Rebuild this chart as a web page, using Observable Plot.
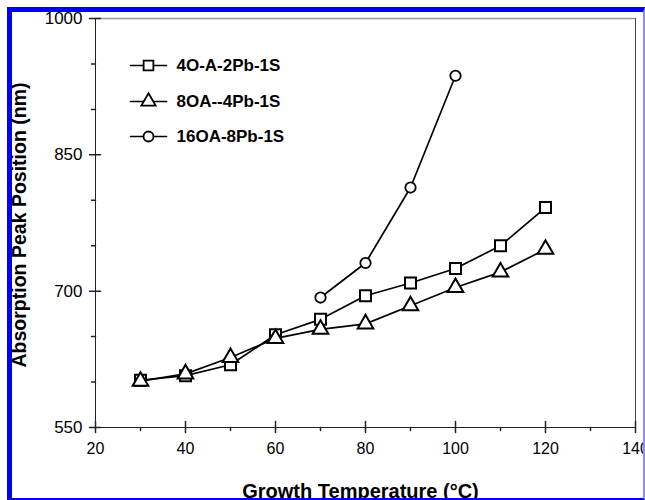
<!DOCTYPE html>
<html><head><meta charset="utf-8">
<script src="https://cdn.jsdelivr.net/npm/d3@7"></script>
<script src="https://cdn.jsdelivr.net/npm/@observablehq/plot@0.6"></script>
<style>
body{margin:0;background:#fff;}
#wrap{position:relative;width:645px;height:500px;overflow:hidden;background:#fff;}
#border{position:absolute;left:7px;top:7px;right:0;bottom:0;border-left:5px solid #0000f5;border-top:5px solid #0000f5;border-right:2px solid #8c8cff;border-bottom:2px solid #0000f5;pointer-events:none;}
</style></head><body>
<div id="wrap"><div id="chart"></div><div id="border"></div></div>
<script>
// ---- data ----
const temps = [30, 40, 50, 60, 70, 80, 90, 100, 110, 120];
const seriesNames = ["4O-A-2Pb-1S", "8OA--4Pb-1S", "16OA-8Pb-1S"];
const squareVals = [602, 607, 619, 652, 669, 695, 709, 725, 750, 792];
const triangleVals = [601, 609, 627, 648, 658, 664, 684, 704, 721, 746];
const circleTemps = [70, 80, 90, 100];
const circleVals = [693, 731, 814, 937];
const xTicks = [20, 40, 60, 80, 100, 120, 140];
const xMinor = [30, 50, 70, 90, 110, 130];
const yTicks = [550, 700, 850, 1000];
const yMinor = [600, 650, 750, 800, 900, 950];
const xTitle = "Growth Temperature (°C)";
const yTitle = "Absorption Peak Position (nm)";

const sqData = temps.map((t, i) => ({t, v: squareVals[i]}));
const triData = temps.map((t, i) => ({t, v: triangleVals[i]}));
const cirData = circleTemps.map((t, i) => ({t, v: circleVals[i]}));

const seg = (x1, y1, x2, y2) => ({draw(c) { c.moveTo(x1, y1); c.lineTo(x2, y2); }});
const font = "Arial, 'Liberation Sans', sans-serif";
const xMin = 20, xMax = 140, yMin = 550, yMax = 1000;

const legendRows = [
  {name: seriesNames[0], symbol: "square", r: 5.5, dy: 47},
  {name: seriesNames[1], symbol: "triangle", r: 5.3, dy: 83},
  {name: seriesNames[2], symbol: "circle", r: 5, dy: 118}
];
const legendMarks = legendRows.flatMap(row => [
  Plot.vector([0], {frameAnchor: "top-left", dx: 53, dy: row.dy, length: 1, anchor: "start",
    shape: seg(-18, 0, 18, 0), stroke: "black", strokeWidth: 1.6}),
  Plot.dot([0], {frameAnchor: "top-left", dx: 53, dy: row.dy, symbol: row.symbol, r: row.r,
    fill: "white", stroke: "black", strokeWidth: 1.8}),
  Plot.text([row.name], {frameAnchor: "top-left", dx: 81, dy: row.dy, textAnchor: "start", lineAnchor: "middle",
    fontSize: 17, fontWeight: "bold", fill: "black"})
]);

const chart = Plot.plot({
  width: 645, height: 500,
  marginLeft: 95, marginRight: 10, marginTop: 18, marginBottom: 73,
  x: {domain: [xMin, xMax]},
  y: {domain: [yMin, yMax]},
  style: {fontFamily: font, background: "white", color: "black"},
  marks: [
    // frame
    Plot.ruleY([yMax], {stroke: "#999", strokeWidth: 1.5}),
    Plot.ruleX([xMax], {stroke: "#444", strokeWidth: 1}),
    Plot.ruleX([xMin], {stroke: "#222", strokeWidth: 1}),
    Plot.ruleY([yMin], {stroke: "#222", strokeWidth: 1}),
    // ticks
    Plot.vector(xTicks, {x: d => d, y: yMin, length: 1, anchor: "start", shape: seg(0, -6, 0, 5), stroke: "#222"}),
    Plot.vector(xMinor, {x: d => d, y: yMin, length: 1, anchor: "start", shape: seg(0, 0, 0, 3), stroke: "#222"}),
    Plot.vector(yTicks, {x: xMin, y: d => d, length: 1, anchor: "start", shape: seg(-6, 0, 5, 0), stroke: "#222"}),
    Plot.vector(yMinor, {x: xMin, y: d => d, length: 1, anchor: "start", shape: seg(-4, 0, 0, 0), stroke: "#222"}),
    // tick labels
    Plot.axisX(xTicks, {tickSize: 0, tickPadding: 15, fontSize: 16, label: null, stroke: null, tickFormat: d => String(d)}),
    Plot.axisY(yTicks, {tickSize: 0, tickPadding: 13, fontSize: 17, label: null, stroke: null, tickFormat: d => String(d)}),
    // titles
    Plot.text([xTitle], {frameAnchor: "bottom", dx: -5, dy: 70, lineAnchor: "bottom", textAnchor: "middle",
      fontSize: 20, fontWeight: "bold", fill: "black"}),
    Plot.text([yTitle], {frameAnchor: "left", rotate: -90, dx: -83, dy: 2, lineAnchor: "top", textAnchor: "middle",
      fontSize: 19.5, fontWeight: "bold", fill: "black"}),
    // series lines
    Plot.line(sqData, {x: "t", y: "v", stroke: "black", strokeWidth: 1.7}),
    Plot.line(triData, {x: "t", y: "v", stroke: "black", strokeWidth: 1.7}),
    Plot.line(cirData, {x: "t", y: "v", stroke: "black", strokeWidth: 1.7}),
    // markers
    Plot.dot(sqData, {x: "t", y: "v", symbol: "square", r: 6.2, fill: "white", stroke: "black", strokeWidth: 2}),
    Plot.dot(triData, {x: "t", y: "v", symbol: "triangle", r: 5.8, fill: "white", stroke: "black", strokeWidth: 2}),
    Plot.dot(cirData, {x: "t", y: "v", symbol: "circle", r: 5.2, fill: "white", stroke: "black", strokeWidth: 1.8}),
    ...legendMarks
  ]
});
document.getElementById("chart").append(chart);
</script>
</body></html>
